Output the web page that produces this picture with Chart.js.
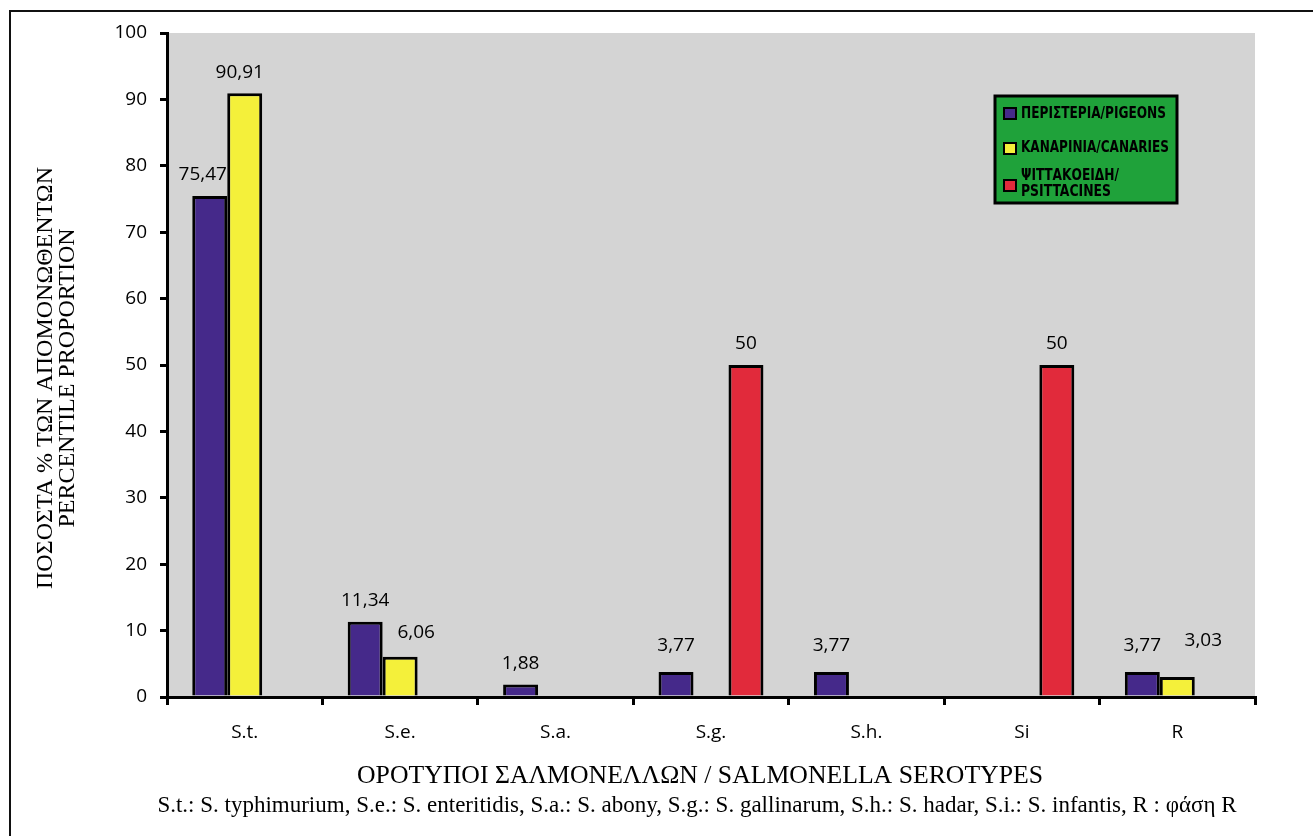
<!DOCTYPE html>
<html>
<head>
<meta charset="utf-8">
<script src="https://cdn.jsdelivr.net/npm/chart.js@4.4.1/dist/chart.umd.min.js"></script>
<style>
  html, body { margin: 0; padding: 0; background: #ffffff; }
  #wrap { width: 1313px; height: 836px; position: relative; }
</style>
</head>
<body>
<div id="wrap"><canvas id="chart" width="1313" height="836"></canvas></div>
<script>
// Salmonella serotypes isolated per bird group (% of isolates)
const serotypes = ['S.t.', 'S.e.', 'S.a.', 'S.g.', 'S.h.', 'Si', 'R'];
const pigeons = [75.47, 11.34, 1.88, 3.77, 3.77, null, 3.77];
const canaries = [90.91, 6.06, null, null, null, null, 3.03];
const psittacines = [null, null, null, 50, null, 50, null];
const seriesNames = ['ΠΕΡΙΣΤΕΡΙΑ/PIGEONS', 'ΚΑΝΑΡΙΝΙΑ/CANARIES', 'ΨΙΤΤΑΚΟΕΙΔΗ/\nPSITTACINES'];
const yTickValues = [0, 10, 20, 30, 40, 50, 60, 70, 80, 90, 100];

const yTitleLines = ['ΠΟΣΟΣΤΑ % ΤΩΝ ΑΠΟΜΟΝΩΘΕΝΤΩΝ', 'PERCENTILE PROPORTION'];
const xTitle = 'ΟΡΟΤΥΠΟΙ ΣΑΛΜΟΝΕΛΛΩΝ / SALMONELLA SEROTYPES';
const footnote = 'S.t.: S. typhimurium, S.e.: S. enteritidis, S.a.: S. abony, S.g.: S. gallinarum, S.h.: S. hadar, S.i.: S. infantis, R : φάση R';

// Styling
const COLORS = ['#45298a', '#f4f03a', '#e12a3b'];
const PLOT_BG = '#d4d4d4';
const LEGEND_BG = '#1fa23a';
const SANS = "'Open Sans', 'Noto Sans', sans-serif";
const SERIF = "'Liberation Serif', 'DejaVu Serif', serif";
const NARROW = "'Liberation Sans Narrow', 'DejaVu Sans Condensed', 'Liberation Sans', sans-serif";

// Nudges for value labels that would otherwise collide: [datasetIndex, categoryIndex, dx, dy]
const labelNudges = [
  [0, 0, -7, 0],
  [1, 0, -5, 0],
  [1, 1, 16, -3],
  [0, 3, 0, -5],
  [0, 4, 0, -5],
  [0, 6, 0, -5],
  [1, 6, 26, -15]
];

function fmt(v) { return String(v).replace('.', ','); }

const plotBackground = {
  id: 'plotBackground',
  beforeDraw(chart) {
    const { ctx, chartArea: a } = chart;
    ctx.save();
    ctx.fillStyle = PLOT_BG;
    ctx.fillRect(a.left, a.top, a.right - a.left, a.bottom - a.top);
    ctx.restore();
  }
};

const valueLabels = {
  id: 'valueLabels',
  afterDatasetsDraw(chart) {
    const { ctx } = chart;
    ctx.save();
    ctx.fillStyle = '#000';
    ctx.font = `19px ${SANS}`;
    ctx.textAlign = 'center';
    ctx.textBaseline = 'middle';
    chart.data.datasets.forEach((ds, di) => {
      const meta = chart.getDatasetMeta(di);
      ds.data.forEach((v, i) => {
        if (v === null || v === undefined) return;
        const bar = meta.data[i];
        let dx = 0, dy = 0;
        labelNudges.forEach(n => { if (n[0] === di && n[1] === i) { dx = n[2]; dy = n[3]; } });
        ctx.fillText(fmt(v), bar.x + dx, bar.y - 21 + dy);
      });
    });
    ctx.restore();
  }
};

const decorations = {
  id: 'decorations',
  afterDraw(chart) {
    const { ctx } = chart;
    ctx.save();

    // outer frame
    ctx.strokeStyle = '#111';
    ctx.lineWidth = 2;
    ctx.strokeRect(10, 11, 1320, 840);

    // legend box
    const lx = 995, ly = 96, lw = 182, lh = 107;
    ctx.fillStyle = LEGEND_BG;
    ctx.fillRect(lx, ly, lw, lh);
    ctx.strokeStyle = '#000';
    ctx.lineWidth = 3;
    ctx.strokeRect(lx, ly, lw, lh);

    const rows = [
      { box: 108, lines: [114], widths: [145] },
      { box: 143, lines: [148], widths: [148] },
      { box: 180, lines: [176, 192], widths: [98, 90] }
    ];
    ctx.font = `bold 16px ${NARROW}`;
    ctx.textAlign = 'left';
    ctx.textBaseline = 'middle';
    chart.data.datasets.forEach((ds, di) => {
      const r = rows[di];
      ctx.fillStyle = COLORS[di];
      ctx.fillRect(1004, r.box, 12, 11);
      ctx.strokeStyle = '#000';
      ctx.lineWidth = 2;
      ctx.strokeRect(1004, r.box, 12, 11);
      ctx.fillStyle = '#000';
      ds.label.split('\n').forEach((p, k) => {
        ctx.fillText(p, 1021, r.lines[k], r.widths[k]);
      });
    });

    // axis titles and footnote
    ctx.fillStyle = '#000';
    ctx.textAlign = 'center';
    ctx.textBaseline = 'middle';
    ctx.font = `26px ${SERIF}`;
    ctx.fillText(xTitle, 700, 776, 686);
    ctx.font = `23px ${SERIF}`;
    ctx.fillText(footnote, 697, 806, 1082);

    ctx.save();
    ctx.translate(46, 378);
    ctx.rotate(-Math.PI / 2);
    ctx.font = `24px ${SERIF}`;
    ctx.fillText(yTitleLines[0], 0, 0, 436);
    ctx.fillText(yTitleLines[1], 0, 22, 346);
    ctx.restore();

    ctx.restore();
  }
};

new Chart(document.getElementById('chart'), {
  type: 'bar',
  data: {
    labels: serotypes,
    datasets: [
      { label: seriesNames[0], data: pigeons, backgroundColor: COLORS[0] },
      { label: seriesNames[1], data: canaries, backgroundColor: COLORS[1] },
      { label: seriesNames[2], data: psittacines, backgroundColor: COLORS[2] }
    ].map(d => Object.assign(d, {
      borderColor: '#000',
      borderWidth: 3,
      categoryPercentage: 0.675,
      barPercentage: 1.0
    }))
  },
  options: {
    responsive: false,
    devicePixelRatio: 1,
    animation: false,
    layout: { padding: { left: 0, top: 33, right: 58, bottom: 0 } },
    plugins: {
      legend: { display: false },
      tooltip: { enabled: false }
    },
    scales: {
      x: {
        offset: true,
        grid: {
          offset: true,
          drawOnChartArea: false,
          drawTicks: true,
          tickLength: 8,
          color: '#000',
          lineWidth: 3
        },
        border: { display: true, color: '#000', width: 3 },
        ticks: { color: '#000', font: { family: SANS, size: 19 }, padding: 16, maxRotation: 0 },
        afterFit(scale) { scale.height = 139; }
      },
      y: {
        min: 0,
        max: 100,
        afterBuildTicks(scale) { scale.ticks = yTickValues.map(v => ({ value: v })); },
        grid: {
          drawOnChartArea: false,
          drawTicks: true,
          tickLength: 7,
          color: '#000',
          lineWidth: 3
        },
        border: { display: true, color: '#000', width: 3 },
        ticks: { color: '#000', font: { family: SANS, size: 19 }, padding: 13 },
        afterFit(scale) { scale.width = 167; }
      }
    }
  },
  plugins: [plotBackground, valueLabels, decorations]
});
</script>
</body>
</html>
